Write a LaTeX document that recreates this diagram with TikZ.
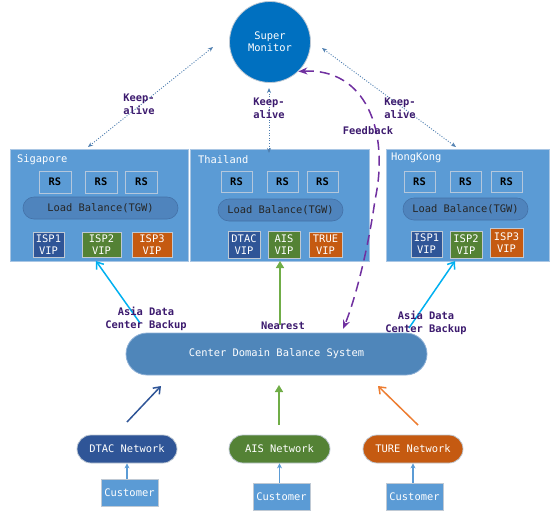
\documentclass[tikz,border=0pt]{standalone}
\usepackage{fontspec}
\setmonofont{DejaVu Sans Mono}
\usetikzlibrary{arrows.meta}
\definecolor{regfill}{HTML}{5B9BD5}
\definecolor{regborder}{HTML}{A9C6E4}
\definecolor{rsborder}{HTML}{B4C7DC}
\definecolor{lbfill}{HTML}{4F84BD}
\definecolor{lbborder}{HTML}{4472A8}
\definecolor{dblue}{HTML}{2F5597}
\definecolor{dgreen}{HTML}{548235}
\definecolor{dorange}{HTML}{C55A11}
\definecolor{lgborder}{HTML}{BFC9D4}
\definecolor{smfill}{HTML}{0070C0}
\definecolor{cdfill}{HTML}{4F86BA}
\definecolor{cdborder}{HTML}{8DB0D6}
\definecolor{lblcol}{HTML}{3C1A6E}
\definecolor{kacol}{HTML}{4F7FB0}
\definecolor{cyanarr}{HTML}{00B0F0}
\definecolor{greenarr}{HTML}{70AD47}
\definecolor{orangearr}{HTML}{ED7D31}
\definecolor{fbcol}{HTML}{7030A0}
\begin{document}
\begin{tikzpicture}[x=1pt,y=-1pt,
  font=\ttfamily\fontsize{10.4}{12}\selectfont,
  region/.style={draw=regborder, fill=regfill, line width=0.8pt, minimum height=112pt, inner sep=0pt},
  reglabel/.style={text=white, inner sep=0pt, anchor=west},
  rsbox/.style={draw=rsborder, fill=regfill, line width=1pt, minimum width=31pt, minimum height=21pt, inner sep=0pt, font=\ttfamily\bfseries\fontsize{10.4}{12}\selectfont, text=black},
  lbbox/.style={draw=lbborder, fill=lbfill, line width=0.6pt, rounded corners=11pt, minimum height=22pt, inner sep=0pt, text=black!85},
  vip/.style={draw=lgborder, line width=1pt, text=white, align=center, minimum height=25pt, inner sep=0pt},
  smcircle/.style={circle, draw=lgborder, fill=smfill, line width=0.8pt, minimum size=81pt, inner sep=0pt, text=white, align=center},
  cdbox/.style={draw=cdborder, fill=cdfill, line width=0.8pt, rounded corners=21pt, minimum width=301pt, minimum height=42pt, text=white},
  netbox/.style={draw=lgborder, line width=0.8pt, rounded corners=14pt, minimum width=100pt, minimum height=28pt, text=white},
  custbox/.style={draw=lgborder, fill=regfill, line width=1pt, minimum width=57pt, minimum height=27pt, inner sep=0pt, text=white},
  lbl/.style={text=lblcol, font=\ttfamily\bfseries\fontsize{10.4}{13}\selectfont, align=center, inner sep=0pt},
  keepalive/.style={draw=kacol, line width=0.9pt, dash pattern=on 1pt off 1.6pt, {Stealth[length=5pt,width=4pt]}-{Stealth[length=5pt,width=4pt]}},
  custarrow/.style={draw=regfill, line width=1.2pt, -{Stealth[length=5pt,width=5pt]}},
  barbarrow/.style={line width=1.5pt, -{Straight Barb[length=6pt,width=9pt]}},
  triarrow/.style={line width=1.5pt, -{Triangle[length=7pt,width=8pt]}},
  fbarrow/.style={draw=fbcol, line width=1.5pt, dash pattern=on 10pt off 6pt, {Stealth[length=9pt,width=7pt]}-{Stealth[length=9pt,width=7pt]}}
]
\useasboundingbox (0,0) rectangle (554,512);

% Super Monitor
\node[smcircle] (sm) at (270,42) {Super\\Monitor};

% Regions
\node[region, minimum width=178pt] (sg) at (99,205) {};
\node[region, minimum width=179pt] (th) at (279.5,205) {};
\node[region, minimum width=163pt] (hk) at (467.5,205) {};
\node[reglabel] (sgl) at (17,160) {Sigapore};
\node[reglabel] (thl) at (198,160) {Thailand};
\node[reglabel] (hkl) at (391,158) {HongKong};

% RS boxes
\node[rsbox, minimum width=32pt, minimum height=22pt] (sgrs1) at (55,182) {RS};
\node[rsbox, minimum width=32pt, minimum height=22pt] (sgrs2) at (101,182) {RS};
\node[rsbox, minimum width=32pt, minimum height=22pt] (sgrs3) at (141.5,182) {RS};
\node[rsbox] (thrs1) at (236.5,181.5) {RS};
\node[rsbox] (thrs2) at (282.5,181.5) {RS};
\node[rsbox] (thrs3) at (322.5,181.5) {RS};
\node[rsbox] (hkrs1) at (419.5,181.5) {RS};
\node[rsbox] (hkrs2) at (465.5,181.5) {RS};
\node[rsbox] (hkrs3) at (506.5,181.5) {RS};

% Load balancers
\node[lbbox, minimum width=155pt] (sglb) at (100.5,208) {Load Balance(TGW)};
\node[lbbox, minimum width=125pt] (thlb) at (280.5,210) {Load Balance(TGW)};
\node[lbbox, minimum width=125pt] (hklb) at (465.5,209) {Load Balance(TGW)};

% VIP boxes
\node[vip, fill=dblue, minimum width=31pt] (sgv1) at (48.5,244.5) {ISP1\\VIP};
\node[vip, fill=dgreen, minimum width=39pt] (sgv2) at (101.5,244.5) {ISP2\\VIP};
\node[vip, fill=dorange, minimum width=40pt] (sgv3) at (152,244.5) {ISP3\\VIP};
\node[vip, fill=dblue, minimum width=32pt, minimum height=27pt] (thv1) at (244,244.5) {DTAC\\VIP};
\node[vip, fill=dgreen, minimum width=32pt, minimum height=27pt] (thv2) at (284,244.5) {AIS\\VIP};
\node[vip, fill=dorange, minimum width=33pt] (thv3) at (325.5,244.5) {TRUE\\VIP};
\node[vip, fill=dblue, minimum width=31pt, minimum height=26pt] (hkv1) at (426.5,244) {ISP1\\VIP};
\node[vip, fill=dgreen, minimum width=32pt, minimum height=27pt] (hkv2) at (466,244.5) {ISP2\\VIP};
\node[vip, fill=dorange, minimum width=33pt, minimum height=29pt] (hkv3) at (506.5,242.5) {ISP3\\VIP};

% Center Domain Balance System
\node[cdbox] (cd) at (276.5,354) {Center Domain Balance System};

% Networks
\node[netbox, fill=dblue] (n1) at (127,449) {DTAC Network};
\node[netbox, fill=dgreen, minimum width=101pt] (n2) at (279.5,449) {AIS Network};
\node[netbox, fill=dorange] (n3) at (413,449) {TURE Network};

% Customers
\node[custbox] (c1) at (129.5,492.5) {Customer};
\node[custbox] (c2) at (281.5,496.5) {Customer};
\node[custbox] (c3) at (414.5,496.5) {Customer};

% Customer arrows
\draw[custarrow] (c1.north -| n1.south) -- (n1.south);
\draw[custarrow] (c2.north -| n2.south) -- (n2.south);
\draw[custarrow] (c3.north -| n3.south) -- (n3.south);

% Network -> CDBS arrows (free floating)
\coordinate (a1s) at (127,422); \coordinate (a1e) at (161,386);
\coordinate (a2s) at (279,425); \coordinate (a2e) at (279,385);
\coordinate (a3s) at (418,425); \coordinate (a3e) at (378,386);
\draw[barbarrow, draw=dblue] (a1s) -- (a1e);
\draw[triarrow, draw=greenarr, fill=greenarr] (a2s) -- (a2e);
\draw[barbarrow, draw=orangearr] (a3s) -- (a3e);

% CDBS -> regions
\coordinate (b1s) at (140,323); \coordinate (b1e) at (96,261);
\coordinate (b2s) at (280,325); \coordinate (b2e) at (280,261);
\coordinate (b3s) at (409,328); \coordinate (b3e) at (455,261);
\draw[barbarrow, draw=cyanarr] (b1s) -- (b1e);
\draw[triarrow, draw=greenarr, fill=greenarr] (b2s) -- (b2e);
\draw[barbarrow, draw=cyanarr] (b3s) -- (b3e);
\node[lbl] (l1) at (146,319) {Asia Data\\Center Backup};
\node[lbl] (l2) at (283,326) {Nearest};
\node[lbl] (l3) at (426,323) {Asia Data\\Center Backup};

% Keep-alive arrows
\coordinate (k1a) at (213,47); \coordinate (k1b) at (88,147);
\coordinate (k2a) at (269,88); \coordinate (k2b) at (269,153);
\coordinate (k3a) at (322,48); \coordinate (k3b) at (456,147);
\draw[keepalive] (k1a) -- (k1b);
\draw[keepalive] (k2a) -- (k2b);
\draw[keepalive] (k3a) -- (k3b);
\node[lbl] (ka1) at (139,104) {Keep-\\alive};
\node[lbl] (ka2) at (269,108) {Keep-\\alive};
\node[lbl] (ka3) at (400,108) {Keep-\\alive};

% Feedback
\coordinate (fbe) at (343,329);
\draw[fbarrow] (sm.-46) .. controls (365,68) and (390,130) .. (375,200) .. controls (368,250) and (355,300) .. (fbe);
\node[lbl] (fb) at (368,131) {Feedback};
\end{tikzpicture}
\end{document}
